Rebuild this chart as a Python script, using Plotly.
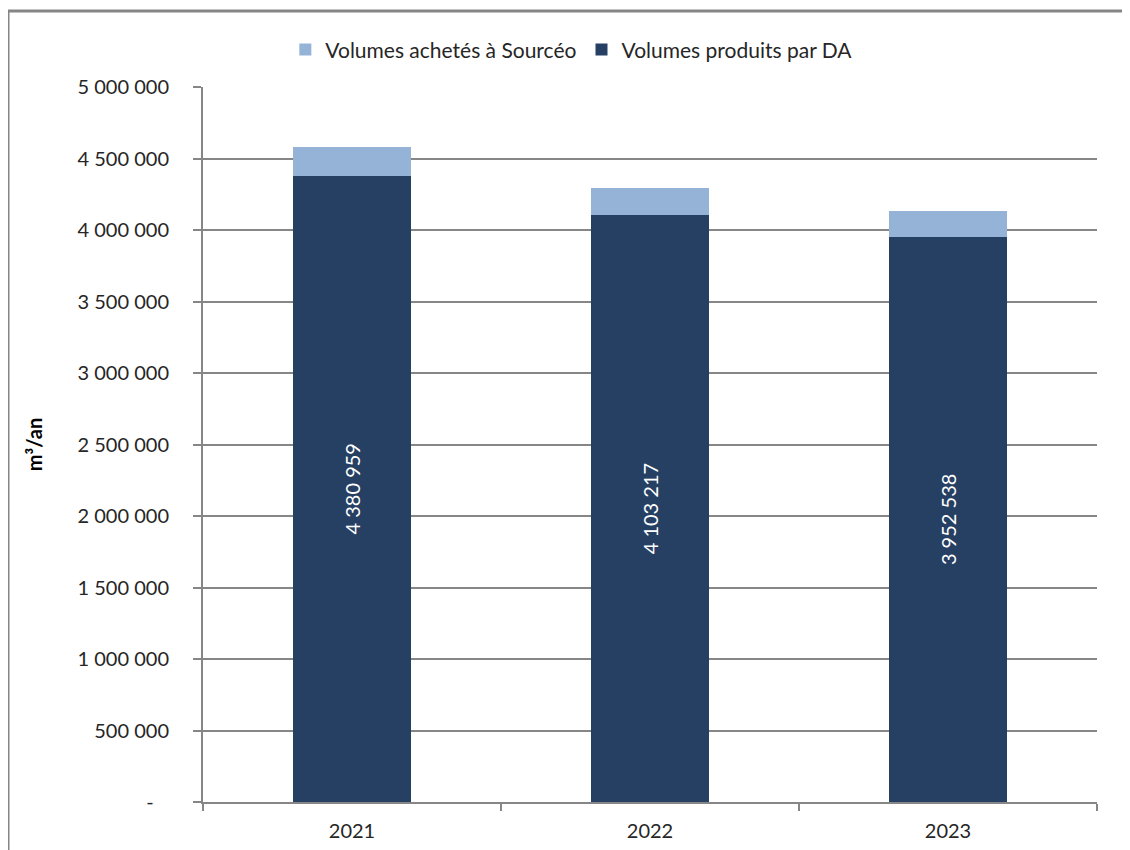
import plotly.graph_objects as go

years = ["2021", "2022", "2023"]
produits_da = [4380959, 4103217, 3952538]
achetes_sourceo = [197000, 188000, 178000]
y_tick_vals = [0, 500000, 1000000, 1500000, 2000000, 2500000, 3000000, 3500000, 4000000, 4500000, 5000000]


def fmt(v):
    return f"{v:,}".replace(",", " ")


y_tick_text = ["-\u00a0\u00a0\u00a0"] + [fmt(v) for v in y_tick_vals[1:]]

FONT = "Lato, 'DejaVu Sans', sans-serif"
DARK = "#264063"
LIGHT = "#95B3D7"
GREY = "#868686"
TXT = "#262626"

fig = go.Figure()
fig.add_trace(go.Bar(
    x=years, y=produits_da, name="Volumes produits par DA",
    marker=dict(color=DARK, line=dict(width=0)),
    width=0.396,
    text=[fmt(v) for v in produits_da],
    textposition="inside", insidetextanchor="middle", textangle=-90,
    textfont=dict(color="white", size=20, family=FONT),
    constraintext="none",
    legendrank=2,
))
fig.add_trace(go.Bar(
    x=years, y=achetes_sourceo, name="Volumes achetés à Sourcéo",
    marker=dict(color=LIGHT, line=dict(width=0)),
    width=0.396,
    legendrank=1,
))

fig.update_layout(
    barmode="stack",
    width=1130, height=850,
    margin=dict(l=195, r=41, t=79, b=56),
    paper_bgcolor="white", plot_bgcolor="white",
    font=dict(family=FONT, size=20, color=TXT),
    showlegend=True,
    legend=dict(orientation="h", x=0.412, xanchor="center", y=1.052, yanchor="middle",
                font=dict(size=21, color=TXT), itemwidth=30, traceorder="normal"),
    xaxis=dict(type="category", showline=True, linecolor=GREY, linewidth=2,
               ticks="outside", ticklen=7, tickwidth=2, tickcolor=GREY,
               tickson="boundaries", showgrid=False, ticklabelstandoff=10,
               tickfont=dict(size=20, color=TXT)),
    yaxis=dict(range=[0, 5000000], tickvals=y_tick_vals, ticktext=y_tick_text,
               showline=True, linecolor=GREY, linewidth=2,
               ticks="outside", ticklen=8, tickwidth=2, tickcolor=GREY,
               showgrid=True, gridcolor=GREY, gridwidth=2,
               zeroline=False, ticklabelstandoff=20,
               tickfont=dict(size=20, color=TXT),
               title=dict(text="<b>m³/an</b>", font=dict(size=20, color="#000000"), standoff=30)),
    bargap=0.6,
)

# outer chart border (left and top visible)
fig.add_shape(type="line", xref="paper", yref="paper", x0=-0.2181, x1=-0.2181, y0=1.1063, y1=-0.2,
              line=dict(color=GREY, width=3), layer="above")
fig.add_shape(type="line", xref="paper", yref="paper", x0=-0.2181, x1=1.2, y0=1.1063, y1=1.1063,
              line=dict(color=GREY, width=3), layer="above")

fig.write_html("out.html")
